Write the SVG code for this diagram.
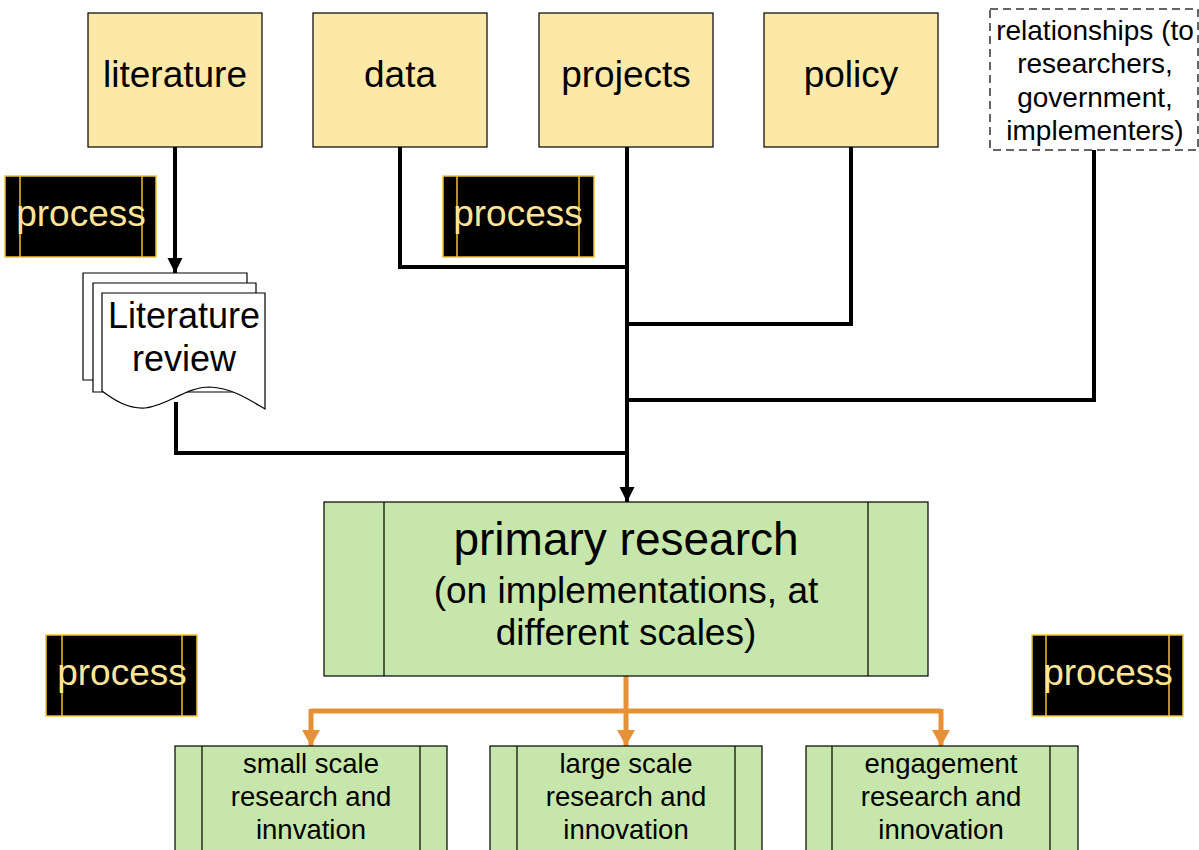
<svg xmlns="http://www.w3.org/2000/svg" width="1199" height="850" viewBox="0 0 1199 850">
<style>
text{font-family:"Liberation Sans",Arial,sans-serif;text-anchor:middle;fill:#000}
.top{fill:#fde9a7;stroke:#000;stroke-width:1.2}
.proc rect{fill:#000;stroke:#f1c232;stroke-width:1.5}
.proc line{stroke:#f1c232;stroke-width:1.5}
.proc text{fill:#ffe599;font-size:37px}
.grn rect{fill:#c6e6ab;stroke:#000;stroke-width:1.2}
.grn line{stroke:#000;stroke-width:1.2}
.doc{fill:#fff;stroke:#000;stroke-width:1.2}
.blk{fill:none;stroke:#000;stroke-width:4}
.org{fill:none;stroke:#e69138;stroke-width:5}
</style>
<defs>
<marker id="ab" markerUnits="userSpaceOnUse" markerWidth="16" markerHeight="18" refX="15" refY="8" orient="auto"><path d="M0,0.5 L15,8 L0,15.5 Z" fill="#000"/></marker>
<marker id="ao" markerUnits="userSpaceOnUse" markerWidth="18" markerHeight="20" refX="16" refY="9" orient="auto"><path d="M0,0 L16,9 L0,18 Z" fill="#e69138"/></marker>
</defs>
<g id="connectors">
<path class="blk" d="M175,147 V273" marker-end="url(#ab)"/>
<path class="blk" d="M400,147 V267 H627"/>
<path class="blk" d="M851,147 V324 H627"/>
<path class="blk" d="M1094,150 V400 H627"/>
<path class="blk" d="M176,402 V453 H627"/>
<path class="blk" d="M627,147 V502" marker-end="url(#ab)"/>
<path class="org" d="M626,676 V711"/>
<path class="org" d="M311,711 H941"/>
<path class="org" d="M311,709 V746" marker-end="url(#ao)"/>
<path class="org" d="M626,709 V746" marker-end="url(#ao)"/>
<path class="org" d="M941,709 V746" marker-end="url(#ao)"/>
</g>
<g id="literature"><rect class="top" x="88" y="13" width="174" height="134"/><text x="175" y="87" font-size="37">literature</text></g>
<g id="data"><rect class="top" x="313" y="13" width="174" height="134"/><text x="400" y="87" font-size="37">data</text></g>
<g id="projects"><rect class="top" x="539" y="13" width="174" height="134"/><text x="626" y="87" font-size="37">projects</text></g>
<g id="policy"><rect class="top" x="764" y="13" width="174" height="134"/><text x="851" y="87" font-size="37">policy</text></g>
<g id="relationships"><rect x="990" y="9" width="208" height="141" fill="#fff" stroke="#333" stroke-width="1.5" stroke-dasharray="8,5"/>
<text font-size="28"><tspan x="1095" y="40">relationships (to</tspan><tspan x="1095" y="73">researchers,</tspan><tspan x="1095" y="107">government,</tspan><tspan x="1095" y="140">implementers)</tspan></text></g>
<g id="process1" class="proc"><rect x="5" y="176" width="151" height="81"/><line x1="20" y1="176" x2="20" y2="257"/><line x1="142" y1="176" x2="142" y2="257"/><text x="81" y="226">process</text></g>
<g id="process2" class="proc"><rect x="443" y="176" width="151" height="81"/><line x1="457" y1="176" x2="457" y2="257"/><line x1="579" y1="176" x2="579" y2="257"/><text x="518" y="226">process</text></g>
<g id="process3" class="proc"><rect x="46" y="635" width="151" height="81"/><line x1="62" y1="635" x2="62" y2="716"/><line x1="182" y1="635" x2="182" y2="716"/><text x="122" y="685">process</text></g>
<g id="process4" class="proc"><rect x="1032" y="635" width="151" height="81"/><line x1="1046" y1="635" x2="1046" y2="716"/><line x1="1169" y1="635" x2="1169" y2="716"/><text x="1108" y="685">process</text></g>
<g id="literature-review">
<path class="doc" d="M83,273 H247 V380 H83 Z"/>
<path class="doc" d="M93,283 H256 V392 H93 Z"/>
<path class="doc" d="M102,293 H265 V409 C250,400 232,388 210,387 C185,387 168,406 145,408 C128,409 114,400 102,391 Z"/>
<text font-size="36"><tspan x="184" y="328">Literature</tspan><tspan x="184" y="371">review</tspan></text>
</g>
<g id="primary-research" class="grn"><rect x="324" y="502" width="604" height="174"/><line x1="384" y1="502" x2="384" y2="676"/><line x1="868" y1="502" x2="868" y2="676"/>
<text x="626" y="555" font-size="46">primary research</text><text x="626" y="603" font-size="37">(on implementations, at</text><text x="626" y="645" font-size="37">different scales)</text></g>
<g id="small-scale" class="grn"><rect x="175" y="746" width="272" height="106"/><line x1="202" y1="746" x2="202" y2="852"/><line x1="420" y1="746" x2="420" y2="852"/>
<text font-size="27.5"><tspan x="311" y="773">small scale</tspan><tspan x="311" y="806">research and</tspan><tspan x="311" y="839">innvation</tspan></text></g>
<g id="large-scale" class="grn"><rect x="490" y="746" width="272" height="106"/><line x1="517" y1="746" x2="517" y2="852"/><line x1="735" y1="746" x2="735" y2="852"/>
<text font-size="27.5"><tspan x="626" y="773">large scale</tspan><tspan x="626" y="806">research and</tspan><tspan x="626" y="839">innovation</tspan></text></g>
<g id="engagement" class="grn"><rect x="806" y="746" width="272" height="106"/><line x1="832" y1="746" x2="832" y2="852"/><line x1="1050" y1="746" x2="1050" y2="852"/>
<text font-size="27.5"><tspan x="941" y="773">engagement</tspan><tspan x="941" y="806">research and</tspan><tspan x="941" y="839">innovation</tspan></text></g>
</svg>
